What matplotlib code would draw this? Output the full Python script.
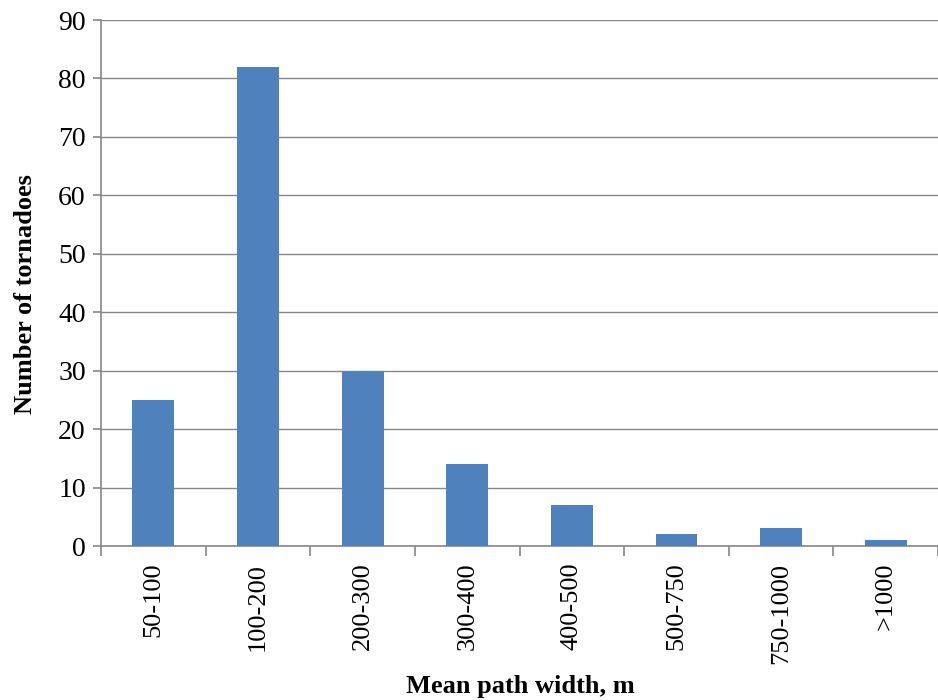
import matplotlib.pyplot as plt
import numpy as np

plt.rcParams['font.family'] = ['Liberation Serif', 'DejaVu Serif']

# tornado counts per mean path width class
widthClasses = ['50-100', '100-200', '200-300', '300-400', '400-500', '500-750', '750-1000', '>1000']
tornadoCounts = [25, 82, 30, 14, 7, 2, 3, 1]

barColor = '#4F81BD'
gridColor = '#868686'

fig = plt.figure(figsize=(9.38, 7.0), dpi=100)
ax = fig.add_axes([0.1077, 0.22, 0.8923, 0.7514])

x = np.arange(len(widthClasses))
ax.bar(x, tornadoCounts, width=0.4, color=barColor, zorder=3)

ax.set_xlim(-0.5, len(widthClasses) - 0.5)
ax.set_ylim(0, 90)
ax.set_yticks(np.arange(0, 91, 10))
ax.yaxis.grid(True, color=gridColor, linewidth=1.0, zorder=0)

ax.set_xticks(x)
ax.set_xticklabels(widthClasses, rotation=90, fontsize=19)
ax.tick_params(axis='x', length=0, pad=12)
ax.set_xticks(np.arange(-0.5, len(widthClasses)), minor=True)
ax.tick_params(axis='x', which='minor', length=7, color=gridColor, width=1.2)
ax.tick_params(axis='y', labelsize=20, length=6, color=gridColor, width=1.2, pad=5)

for side in ['top', 'right']:
    ax.spines[side].set_visible(False)
for side in ['left', 'bottom']:
    ax.spines[side].set_color(gridColor)
    ax.spines[side].set_linewidth(1.2)

# axis titles placed in figure coordinates
fig.text(0.027, 0.58, 'Number of tornadoes', rotation=90, fontsize=19,
         fontweight='bold', ha='center', va='center')
fig.text(0.555, 0.02, 'Mean path width, m', fontsize=19,
         fontweight='bold', ha='center', va='center')

fig.savefig('out.png', dpi=100)
